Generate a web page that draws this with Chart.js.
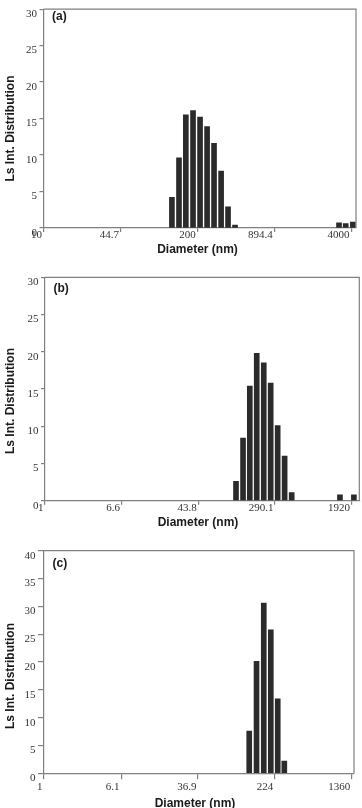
<!DOCTYPE html>
<html>
<head>
<meta charset="utf-8">
<script src="https://cdn.jsdelivr.net/npm/chart.js@4.4.1/dist/chart.umd.min.js"></script>
<style>
  html, body { margin: 0; padding: 0; background: #fff; overflow: hidden; }
  canvas { position: absolute; left: 0; }
</style>
</head>
<body>
<canvas id="panelA" width="362" height="262" style="top:0px"></canvas>
<canvas id="panelB" width="362" height="266" style="top:266px"></canvas>
<canvas id="panelC" width="362" height="280" style="top:538px"></canvas>
<script>
// bin centres (nm) and intensity
const diamA = [122, 140, 160, 184, 211, 242, 277, 318, 364, 417, 3160, 3600, 4140];
const distA = [4.2, 9.6, 15.5, 16.1, 15.2, 13.9, 11.6, 7.8, 2.9, 0.4, 0.7, 0.6, 0.8];
const ticksA = [10, 44.7, 200, 894.4, 4000];

const diamB = [111, 132, 156, 185, 220, 261, 310, 368, 438, 1440, 2030];
const distB = [2.6, 8.4, 15.4, 19.8, 18.5, 15.8, 10.1, 6.0, 1.1, 0.8, 0.8];
const ticksB = [1, 6.6, 43.8, 290.1, 1920];

const diamC = [123, 146, 173, 204, 240, 280];
const distC = [7.6, 20.1, 30.6, 25.8, 13.4, 2.2];
const ticksC = [1, 6.1, 36.9, 224, 1360];

const AXIS = '#808080';
const TICKFONT = { family: '"Liberation Serif", "DejaVu Serif", serif', size: 11 };

// frame on top/right plus the bold sans labels
const decor = {
    id: 'decor',
    afterDraw(chart, args, o) {
        const { ctx, chartArea: a } = chart;
        ctx.save();
        ctx.strokeStyle = AXIS;
        ctx.lineWidth = 1.2;
        ctx.beginPath();
        ctx.moveTo(a.left, a.top);
        ctx.lineTo(a.right, a.top);
        ctx.lineTo(a.right, a.bottom);
        ctx.stroke();
        ctx.fillStyle = '#1a1a1a';
        ctx.font = 'bold 12px "Liberation Sans", Arial, sans-serif';
        ctx.textBaseline = 'middle';
        ctx.textAlign = 'left';
        ctx.fillText(o.tag, a.left + 8.5, o.tagY);
        ctx.textAlign = 'center';
        ctx.fillText('Diameter (nm)', o.xTitleX, o.xTitleY);
        ctx.translate(10.5, o.yTitleY);
        ctx.rotate(-Math.PI / 2);
        ctx.fillText('Ls Int. Distribution', 0, 0);
        ctx.restore();
    }
};

function buildPanel(id, diam, dist, ticks, g) {
    return new Chart(document.getElementById(id), {
        type: 'bar',
        data: {
            datasets: [{
                data: diam.map((d, i) => ({ x: d, y: dist[i] })),
                backgroundColor: '#2b2b2b',
                borderWidth: 0,
                barThickness: 5
            }]
        },
        options: {
            responsive: false,
            animation: false,
            devicePixelRatio: 1,
            layout: { padding: { top: g.padTop, right: g.padRight, left: 0, bottom: 0 } },
            plugins: {
                legend: { display: false },
                tooltip: { enabled: false },
                decor: g.decor
            },
            scales: {
                x: {
                    type: 'logarithmic',
                    offset: false,
                    min: g.xMin,
                    max: g.xMax,
                    afterBuildTicks: s => { s.ticks = ticks.map(v => ({ value: v })); },
                    afterFit: s => { s.height = g.xHeight; },
                    grid: { offset: false, drawOnChartArea: false, tickLength: g.xTick, color: AXIS, lineWidth: 1.2 },
                    border: { color: AXIS, width: 1.2 },
                    ticks: {
                        autoSkip: false, maxRotation: 0, align: 'end', labelOffset: -1.5,
                        padding: g.xPad, color: '#333', font: TICKFONT,
                        callback: v => String(v)
                    }
                },
                y: {
                    min: 0,
                    max: g.yMax,
                    afterFit: s => { s.width = g.yWidth; },
                    grid: { drawOnChartArea: false, tickLength: g.yTick, color: AXIS, lineWidth: 1.2 },
                    border: { color: AXIS, width: 1.2 },
                    ticks: { stepSize: 5, labelOffset: 5, padding: 2.5, color: '#333', font: TICKFONT }
                }
            }
        },
        plugins: [decor]
    });
}

buildPanel('panelA', diamA, distA, ticksA, {
    padTop: 4, padRight: 6, yWidth: 43.5, xHeight: 34, xMin: 10, xMax: 4400, yMax: 30,
    xTick: 4, xPad: -3, yTick: 4,
    decor: { tag: '(a)', tagY: 17, xTitleX: 197.5, xTitleY: 250, yTitleY: 128.5 }
});
buildPanel('panelB', diamB, distB, ticksB, {
    padTop: 11.3, padRight: 2.7, yWidth: 45, xHeight: 31.3, xMin: 1, xMax: 2320, yMax: 30,
    xTick: 4, xPad: -3, yTick: 4,
    decor: { tag: '(b)', tagY: 23, xTitleX: 198, xTitleY: 256.5, yTitleY: 135 }
});
buildPanel('panelC', diamC, distC, ticksC, {
    padTop: 12.7, padRight: 8, yWidth: 44, xHeight: 44.7, xMin: 1, xMax: 1435, yMax: 40,
    xTick: 6, xPad: 1.5, yTick: 6,
    decor: { tag: '(c)', tagY: 25.5, xTitleX: 195, xTitleY: 266, yTitleY: 138 }
});
</script>
</body>
</html>
